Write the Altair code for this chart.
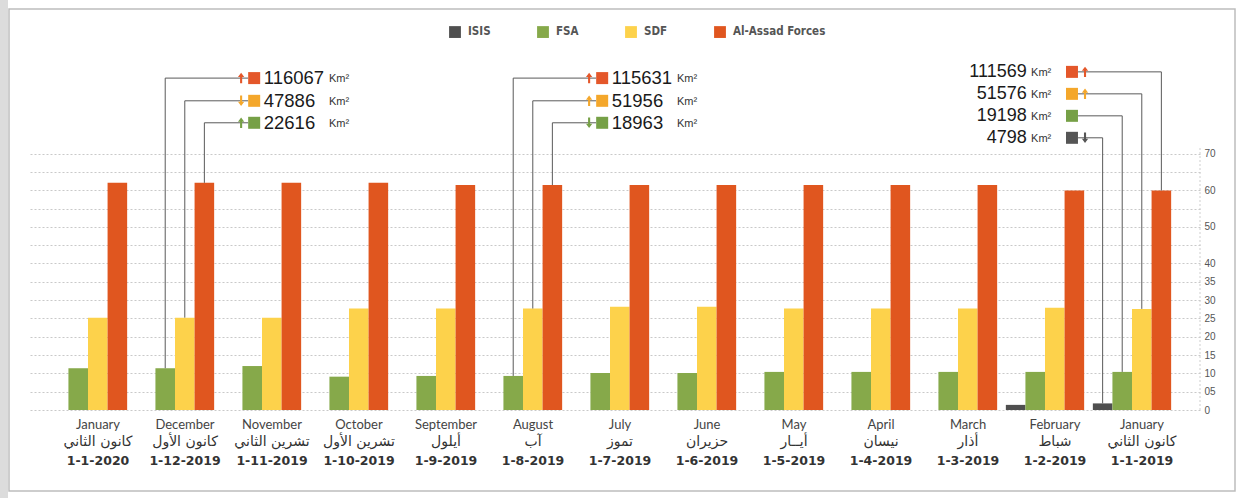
import altair as alt
import pandas as pd

# ---------------- data ----------------
months_en = ["January", "December", "November", "October", "September", "August",
             "July", "June", "May", "April", "March", "February", "January"]
months_ar = ["كانون الثاني", "كانون الأول", "تشرين الثاني", "تشرين الأول", "أيلول", "آب",
             "تموز", "حزيران", "أيــار", "نيسان", "أذار", "شباط", "كانون الثاني"]
dates = ["1-1-2020", "1-12-2019", "1-11-2019", "1-10-2019", "1-9-2019", "1-8-2019",
         "1-7-2019", "1-6-2019", "1-5-2019", "1-4-2019", "1-3-2019", "1-2-2019", "1-1-2019"]

factions = ["ISIS", "FSA", "SDF", "Al-Assad Forces"]
isis = [0, 0, 0, 0, 0, 0, 0, 0, 0, 0, 0, 1.4, 1.8]
fsa = [11.4, 11.4, 12.0, 9.1, 9.3, 9.3, 10.1, 10.1, 10.4, 10.4, 10.4, 10.4, 10.4]
sdf = [25.2, 25.2, 25.2, 27.7, 27.7, 27.7, 28.2, 28.2, 27.7, 27.7, 27.7, 27.9, 27.6]
assad = [62.0, 62.0, 62.0, 62.0, 61.4, 61.4, 61.4, 61.4, 61.4, 61.4, 61.4, 59.9, 59.9]

y_ticks = [0, 5, 10, 15, 20, 25, 30, 35, 40, 45, 50, 55, 60, 65, 70]

# callouts (month index, bar the leader starts from, row level, label)
ann_month = [1, 1, 1, 5, 5, 5, 12, 12, 12, 12]
ann_bar = ["FSA", "SDF", "Al-Assad Forces", "FSA", "SDF", "Al-Assad Forces",
           "Al-Assad Forces", "SDF", "FSA", "ISIS"]
ann_row = [90.6, 84.4, 78.4, 90.6, 84.4, 78.4, 92.3, 86.3, 80.3, 74.3]
ann_label = ["116067", "47886", "22616", "115631", "51956", "18963",
             "111569", "51576", "19198", "4798"]
ann_key = ["Al-Assad Forces", "SDF", "FSA", "Al-Assad Forces", "SDF", "FSA",
           "Al-Assad Forces", "SDF", "FSA", "ISIS"]
ann_trend = ["up", "down", "up", "up", "up", "down", "up", "up", "none", "down"]
# callout positions along the month axis (month-index units)
ann_line_end = [1.84, 1.84, 1.84, 5.84, 5.84, 5.84, 11.38, 11.38, 11.38, 11.38]
ann_arrow_x = [1.76, 1.76, 1.76, 5.76, 5.76, 5.76, 11.46, 11.46, 11.46, 11.46]
ann_square_x = [1.91, 1.91, 1.91, 5.91, 5.91, 5.91, 11.31, 11.31, 11.31, 11.31]
ann_num_x = [2.02, 2.02, 2.02, 6.02, 6.02, 6.02, 10.79, 10.79, 10.79, 10.79]
ann_km_x = [2.77, 2.77, 2.77, 6.77, 6.77, 6.77, 10.84, 10.84, 10.84, 10.84]

# ---------------- styles ----------------
bar_colors = ["#4f4f4f", "#86a94a", "#fdd24b", "#e0561f"]
key_colors = {"ISIS": "#555555", "FSA": "#76a046", "SDF": "#f4a72b", "Al-Assad Forces": "#e4572a"}
BW = 0.225  # bar width in month units
UP = "M0,-1L0.6,-0.2L0.2,-0.2L0.2,1L-0.2,1L-0.2,-0.2L-0.6,-0.2Z"
DOWN = "M0,1L0.6,0.2L0.2,0.2L0.2,-1L-0.2,-1L-0.2,0.2L-0.6,0.2Z"

series = {"ISIS": isis, "FSA": fsa, "SDF": sdf, "Al-Assad Forces": assad}
rows = []
for i in range(len(months_en)):
    for k, f in enumerate(factions):
        x0 = i + (k - 2) * BW
        rows.append({"idx": i, "faction": f, "value": series[f][i], "x0": x0, "x1": x0 + BW})
bars_df = pd.DataFrame(rows)

labels_df = pd.DataFrame({"idx": list(range(len(months_en))), "en": months_en,
                          "ar": months_ar, "date": dates})

fidx = {f: k for k, f in enumerate(factions)}
ann_df = pd.DataFrame({
    "month": ann_month, "bar": ann_bar, "row": ann_row, "label": ann_label,
    "key": ann_key, "trend": ann_trend, "line_end": ann_line_end,
    "arrow_x": ann_arrow_x, "square_x": ann_square_x, "num_x": ann_num_x, "km_x": ann_km_x,
})
ann_df["bar_c"] = [m + (fidx[b] - 1.5) * BW for m, b in zip(ann_month, ann_bar)]
ann_df["bar_v"] = [series[b][m] for m, b in zip(ann_month, ann_bar)]
ann_df["col"] = [key_colors[k] for k in ann_key]
ann_df["km"] = "Km²"

W, H = 1172, 370
xscale = alt.Scale(domain=[-60 / 87, (W - 60) / 87], nice=False, zero=False)
yscale = alt.Scale(domain=[0, 101], nice=False, zero=True)

yaxis = alt.Axis(orient="right", values=y_ticks, title=None, domain=False, ticks=False,
                 grid=True, gridDash=[2, 2], gridColor="#c9c9c9", gridWidth=1,
                 labelExpr="datum.value == 5 ? '05' : ((datum.value == 45 || datum.value == 55 || datum.value == 65) ? '' : datum.label)",
                 labelFont="Liberation Sans", labelFontSize=10, labelColor="#555",
                 labelPadding=4)


def X(field):
    return alt.X(field, type="quantitative", scale=xscale, axis=None)


def Y(field):
    return alt.Y(field, type="quantitative", scale=yscale, axis=yaxis)


bars = alt.Chart(bars_df).mark_bar().encode(
    x=X("x0"),
    x2="x1:Q",
    y=Y("value"),
    y2=alt.datum(0),
    color=alt.Color("faction:N", scale=alt.Scale(domain=factions, range=bar_colors),
                    legend=alt.Legend(orient="none", legendX=421, legendY=-14,
                                      direction="horizontal", title=None,
                                      symbolType="square", symbolSize=140,
                                      symbolStrokeWidth=0,
                                      labelFont="Liberation Sans Narrow, DejaVu Sans Condensed, sans-serif",
                                      labelFontWeight="bold", labelFontSize=11.5,
                                      labelColor="#555", columnPadding=46, labelOffset=7)),
)

edge = alt.Chart(pd.DataFrame({"x": [(W - 60) / 87], "y0": [0], "y1": [72]})).mark_rule(
    color="#cfcfcf", strokeDash=[2, 2]).encode(x=X("x"), y=Y("y0"), y2="y1:Q")

base_ann = alt.Chart(ann_df)
vlead = base_ann.mark_rule(color="#5a5a5a", strokeWidth=1).encode(
    x=X("bar_c"), y=Y("bar_v"), y2="row:Q")
hlead = base_ann.mark_rule(color="#5a5a5a", strokeWidth=1).encode(
    x=X("bar_c"), x2="line_end:Q", y=Y("row"))
squares = base_ann.mark_point(shape="square", filled=True, size=144, opacity=1).encode(
    x=X("square_x"), y=Y("row"), fill=alt.Fill("col:N", scale=None))
arrows = base_ann.transform_filter("datum.trend != 'none'").mark_point(
    filled=True, size=110, opacity=1, strokeWidth=0).encode(
    x=X("arrow_x"), y=Y("row"),
    fill=alt.Fill("col:N", scale=None),
    shape=alt.Shape("trend:N", scale=alt.Scale(domain=["up", "down"], range=[UP, DOWN]), legend=None))
nums_l = base_ann.transform_filter("datum.num_x > datum.month").mark_text(
    align="left", baseline="middle", font="Liberation Sans", fontSize=18.5, color="#1a1a1a").encode(
    x=X("num_x"), y=Y("row"), text="label:N")
nums_r = base_ann.transform_filter("datum.num_x < datum.month").mark_text(
    align="right", baseline="middle", font="Liberation Sans", fontSize=18, color="#1a1a1a").encode(
    x=X("num_x"), y=Y("row"), text="label:N")
kms = base_ann.mark_text(align="left", baseline="middle", font="Liberation Sans",
                         fontSize=11, color="#333", dy=1).encode(
    x=X("km_x"), y=Y("row"), text="km:N")

base_lab = alt.Chart(labels_df)
lab_en = base_lab.mark_text(font="Lato", fontSize=13, color="#444", baseline="middle", dx=10).encode(
    x=X("idx"), y=alt.value(385), text="en:N")
lab_ar = base_lab.mark_text(font="DejaVu Sans", fontSize=14, color="#333", baseline="middle", dx=10).encode(
    x=X("idx"), y=alt.value(402), text="ar:N")
lab_dt = base_lab.mark_text(font="DejaVu Sans", fontSize=12.5, fontWeight="bold", color="#333",
                            baseline="middle", dx=10).encode(
    x=X("idx"), y=alt.value(421), text="date:N")

frame_df = pd.DataFrame({"a": [0]})
frame = alt.Chart(frame_df).mark_rect(filled=False, stroke="#bdbdbd", strokeWidth=1.5).encode(
    x=alt.value(-19), x2=alt.value(1207), y=alt.value(-31), y2=alt.value(451))
strip = alt.Chart(frame_df).mark_rect(color="#dcdcdc").encode(
    x=alt.value(-28), x2=alt.value(-20), y=alt.value(-40), y2=alt.value(458))

chart = alt.layer(
    strip, frame, bars, edge, vlead, hlead, squares, arrows, nums_l, nums_r, kms,
    lab_en, lab_ar, lab_dt,
).properties(
    width=W, height=H,
    padding={"left": 28, "top": 40, "right": 43, "bottom": 88},
    autosize=alt.AutoSizeParams(type="none"),
    background="white",
).configure_view(stroke=None)

chart.save("out.html", embed_options={"renderer": "svg", "actions": False})
